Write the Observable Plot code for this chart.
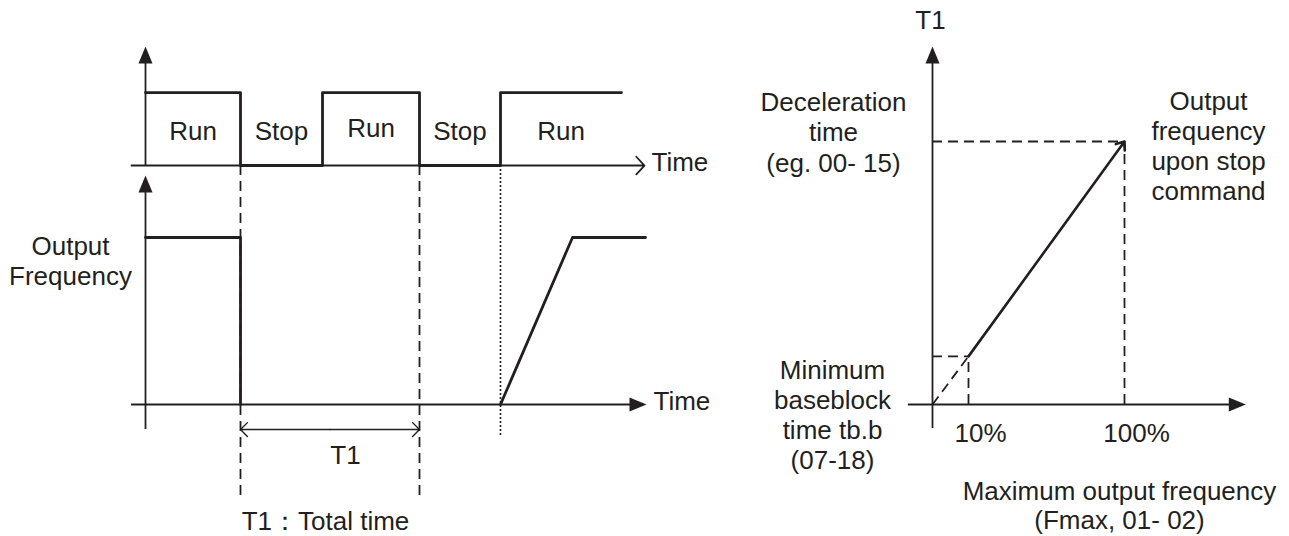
<!DOCTYPE html>
<html>
<head>
<meta charset="utf-8">
<script src="https://cdn.jsdelivr.net/npm/d3@7"></script>
<script src="https://cdn.jsdelivr.net/npm/@observablehq/plot@0.6"></script>
<style>
  html, body { margin: 0; padding: 0; background: #fff; }
  #wrap { position: relative; width: 1289px; height: 536px; overflow: hidden; background: #fff; }
  #left, #right { position: absolute; top: 0; }
  #left { left: 0; }
  #right { left: 720px; }
</style>
</head>
<body>
<div id="wrap"><div id="left"></div><div id="right"></div></div>
<script>
// ---------------- DATA ----------------
// Left diagram: run command (time in arbitrary units, 0 = vertical axis)
const cmdTimes  = [0, 9.5, 17.7, 27.4, 35.5, 47.6];
const cmdStates = [1, 0, 1, 0, 1, 1];            // 1 = Run, 0 = Stop
const cmdLabels = ["Run", "Stop", "Run", "Stop", "Run"];

// Left diagram: output frequency (0 = none, 1 = running frequency)
const freqStopTimes   = [0, 9.5, 9.5];
const freqStopValues  = [1, 1, 0];
const freqStartTimes  = [35.5, 42.7, 50];
const freqStartValues = [0, 1, 1];

// Guide lines: end of first Run, end of T1 (dashed), restart (dotted)
const guideTimes  = [9.5, 27.4];
const restartTime = [35.5];
const t1Span      = [9.5, 27.4];

// Right diagram: T1 vs output frequency upon stop command
const freqPct     = [10, 100];             // % of maximum output frequency
const freqTicks   = ["10%", "100%"];
const t1Values    = [0.183, 1];            // min baseblock time, deceleration time

// ---------------- LAYOUT / STYLE ----------------
const INK = "#231f20";
const FONT = "'Liberation Sans', Arial, Helvetica, sans-serif";
const FS = 26;
const head = { draw(ctx) { ctx.moveTo(0, 0); ctx.lineTo(7, 17); ctx.lineTo(-7, 17); ctx.closePath(); } };

// left vertical placement (in y-scale units)
const cmdBase = 1.431, cmdAmp = 0.437;
const cmdY = s => cmdBase + s * cmdAmp;
const topAxisTip = 2.144, lowAxisTip = 1.371, lowAxisBottom = -0.15;
const guideBottom = -0.575, dottedBottom = -0.192, t1ArrowY = -0.15;
const axisStart = -1.4, topAxisEnd = 49.9, lowAxisEnd = 50.1;

const cmdData = cmdTimes.map((t, i) => ({ t, y: cmdY(cmdStates[i]) }));
const cmdLabelData = cmdLabels.map((label, i) => ({
  label, t: (cmdTimes[i] + cmdTimes[i + 1]) / 2, y: cmdY(0.5), up: i === 2
}));
const freqData = [
  ...freqStopTimes.map((t, i) => ({ seg: "stop", t, v: freqStopValues[i] })),
  ...freqStartTimes.map((t, i) => ({ seg: "start", t, v: freqStartValues[i] }))
];
const t1Mid = (t1Span[0] + t1Span[1]) / 2;

const left = Plot.plot({
  width: 720, height: 536, margin: 0,
  style: { background: "transparent", fontFamily: FONT, overflow: "visible" },
  x: { domain: [0, 50], range: [145, 645], axis: null },
  y: { domain: [0, 1], range: [404, 237], axis: null },
  marks: [
    Plot.ruleX(guideTimes, { x: d => d, y1: cmdBase, y2: guideBottom, stroke: INK, strokeWidth: 1.8, strokeDasharray: "10,6" }),
    Plot.ruleX(restartTime, { x: d => d, y1: cmdBase, y2: dottedBottom, stroke: INK, strokeWidth: 1.6, strokeDasharray: "2,2" }),
    Plot.ruleX([0], { x: d => d, y1: cmdBase, y2: topAxisTip - 0.05, stroke: INK, strokeWidth: 1.8 }),
    Plot.ruleX([0], { x: d => d, y1: lowAxisBottom, y2: lowAxisTip - 0.05, stroke: INK, strokeWidth: 1.8 }),
    Plot.ruleY([0], { y: d => d, x1: axisStart, x2: lowAxisEnd - 0.5, stroke: INK, strokeWidth: 1.8 }),
    Plot.dot([
      { t: 0, y: topAxisTip, r: 0 },
      { t: 0, y: lowAxisTip, r: 0 },
      { t: lowAxisEnd, y: 0, r: 90 }
    ], { x: "t", y: "y", rotate: "r", symbol: head, fill: INK, stroke: "none" }),
    Plot.arrow([{ a: axisStart, b: topAxisEnd }], {
      x1: "a", x2: "b", y1: () => cmdBase, y2: () => cmdBase,
      stroke: INK, strokeWidth: 1.8, headAngle: 94, headLength: 10
    }),
    Plot.line(cmdData, { x: "t", y: "y", curve: "step-after", stroke: INK, strokeWidth: 2.8 }),
    Plot.line(freqData, { x: "t", y: "v", z: "seg", stroke: INK, strokeWidth: 2.8 }),
    Plot.arrow(t1Span.map(b => ({ a: t1Mid, b })), {
      x1: "a", x2: "b", y1: () => t1ArrowY, y2: () => t1ArrowY,
      stroke: INK, strokeWidth: 1.4, headAngle: 90, headLength: 10.5
    }),
    Plot.text(cmdLabelData.filter(d => !d.up), { x: "t", y: "y", text: "label", dy: 3, fontSize: FS, fill: INK }),
    Plot.text(cmdLabelData.filter(d => d.up), { x: "t", y: "y", text: "label", dy: 0, fontSize: FS, fill: INK }),
    Plot.text([{ t: topAxisEnd, y: cmdBase }], { x: "t", y: "y", text: () => "Time", textAnchor: "start", dx: 7, dy: -3, fontSize: FS, fill: INK }),
    Plot.text([{ t: lowAxisEnd, y: 0 }], { x: "t", y: "y", text: () => "Time", textAnchor: "start", dx: 7, dy: -3, fontSize: FS, fill: INK }),
    Plot.text([{ t: -7.5, y: 0.86 }], { x: "t", y: "y", text: () => "Output\nFrequency", lineHeight: 30 / 26, fontSize: FS, fill: INK }),
    Plot.text([{ t: t1Mid, y: -0.304 }], { x: "t", y: "y", text: () => "T1", dx: 15.5, fontSize: FS, fill: INK }),
    Plot.text([{ t: t1Mid, y: -0.699 }], { x: "t", y: "y", text: () => "T1：Total time", dx: -4.5, fontSize: FS, fill: INK })
  ]
});
document.getElementById("left").appendChild(left);

// right diagram: schematic (non-proportional) frequency axis via a piecewise transform
const tbb = t1Values[0], decel = t1Values[1];
const pctWarp = d3.scaleLinear([0, 10, 100], [0, 18.75, 100]);
const right = Plot.plot({
  width: 569, height: 536, margin: 0,
  style: { background: "transparent", fontFamily: FONT, overflow: "visible" },
  x: { domain: [0, 100], range: [212, 404], transform: pctWarp, axis: null },
  y: { domain: [0, 1], range: [404, 141], axis: null },
  marks: [
    Plot.ruleY([decel], { y: d => d, x1: 0, x2: freqPct[1], stroke: INK, strokeWidth: 1.8, strokeDasharray: "10,6" }),
    Plot.ruleX([freqPct[1]], { x: d => d, y1: 0, y2: decel, stroke: INK, strokeWidth: 1.8, strokeDasharray: "10,6" }),
    Plot.ruleY([tbb], { y: d => d, x1: 0, x2: freqPct[0], stroke: INK, strokeWidth: 1.8, strokeDasharray: "10,6" }),
    Plot.ruleX([freqPct[0]], { x: d => d, y1: 0, y2: tbb, stroke: INK, strokeWidth: 1.8, strokeDasharray: "10,6" }),
    Plot.link([{ a: 0, b: 0, c: freqPct[0], d: tbb }], { x1: "a", y1: "b", x2: "c", y2: "d", stroke: INK, strokeWidth: 1.8, strokeDasharray: "10,6" }),
    Plot.ruleX([0], { x: d => d, y1: -0.091, y2: 1.32, stroke: INK, strokeWidth: 1.8 }),
    Plot.ruleY([0], { y: d => d, x1: -6.7, x2: 166, stroke: INK, strokeWidth: 1.8 }),
    Plot.dot([{ x: 0, y: 1.361, r: 0 }, { x: 170, y: 0, r: 90 }], { x: "x", y: "y", rotate: "r", symbol: head, fill: INK, stroke: "none" }),
    Plot.arrow([{ a: freqPct[0], b: tbb, c: freqPct[1], d: decel }], {
      x1: "a", y1: "b", x2: "c", y2: "d", stroke: INK, strokeWidth: 2.6, headAngle: 75, headLength: 5.2
    }),
    Plot.text([{ x: 0, y: 1.461 }], { x: "x", y: "y", text: () => "T1", dx: -2, fontSize: FS, fill: INK }),
    Plot.text([{ x: 0, y: decel }], { x: "x", y: "y", text: () => "Deceleration\ntime\n(eg. 00- 15)", dx: -99, dy: -10, lineHeight: 30.5 / 26, fontSize: FS, fill: INK }),
    Plot.text([{ x: freqPct[1], y: decel }], { x: "x", y: "y", text: () => "Output\nfrequency\nupon stop\ncommand", dx: 84, dy: 4, lineHeight: 30 / 26, fontSize: FS, fill: INK }),
    Plot.text([{ x: 0, y: 0 }], { x: "x", y: "y", text: () => "Minimum\nbaseblock\ntime tb.b\n(07-18)", dx: -100, dy: 10, lineHeight: 30 / 26, fontSize: FS, fill: INK }),
    Plot.text(freqPct.map((p, i) => ({ x: p, y: 0, s: freqTicks[i] })), { x: "x", y: "y", text: "s", dx: 12, dy: 29.5, fontSize: FS, fill: INK }),
    Plot.text([{ x: freqPct[1], y: 0 }], { x: "x", y: "y", text: () => "Maximum output frequency\n(Fmax, 01- 02)", dx: -5, dy: 101, lineHeight: 29 / 26, fontSize: FS, fill: INK })
  ]
});
document.getElementById("right").appendChild(right);
</script>
</body>
</html>
